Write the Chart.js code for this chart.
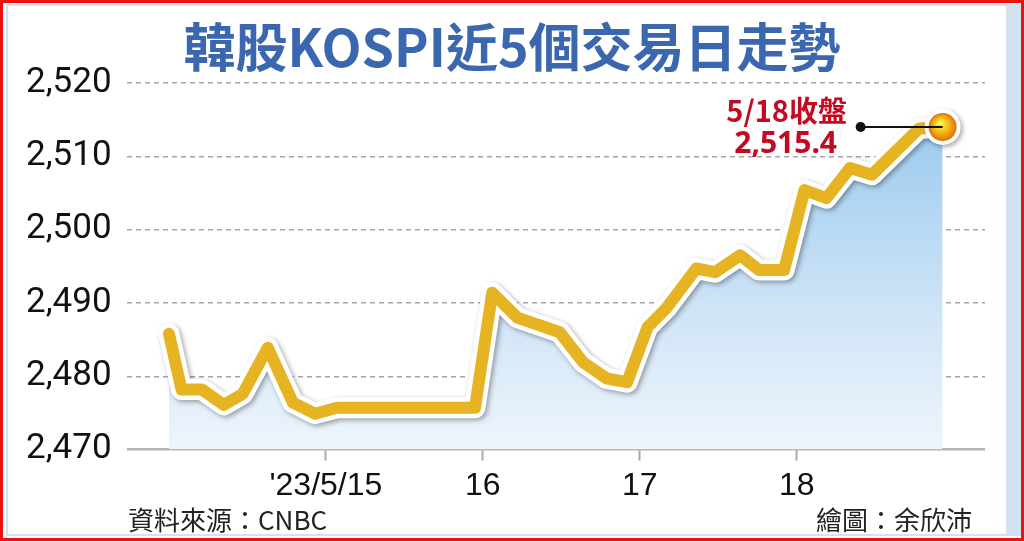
<!DOCTYPE html>
<html lang="zh-Hant">
<head>
  <meta charset="UTF-8">
  <title>韓股KOSPI近5個交易日走勢</title>
  <script src="https://cdn.jsdelivr.net/npm/chart.js"></script>
  <style>
    * { box-sizing: border-box; }
    body { margin: 0; background: #fff; }
    #frame {
      position: relative;
      width: 1024px;
      height: 541px;
      border: 3px solid #ee1111;
      background: #fff;
      overflow: hidden;
    }
    #inner {
      position: absolute;
      left: 3px; top: 1px; right: 0; bottom: 2px;
      border: 2px solid #d3e2f1;
      border-right-width: 15px;
    }
    #title {
      position: absolute;
      left: 0; width: 1018px; top: 12px;
      text-align: center;
      font-family: "Noto Sans CJK TC", sans-serif;
      font-weight: 700;
      font-size: 52px;
      line-height: 60px;
      color: #3b66b0;
    }
    .chart-wrap {
      position: absolute;
      left: -3px; top: -3px;
      width: 1024px; height: 541px;
    }
    .foot {
      position: absolute;
      top: 497px;
      font-family: "Liberation Sans Narrow", "Noto Sans CJK TC", sans-serif;
      font-size: 26px;
      color: #222;
    }
    #src { left: 125px; }
    #credit { right: 49px; }
  </style>
</head>
<body>
  <div id="frame">
    <div id="inner"></div>
    <div class="chart-wrap"><canvas id="chart"></canvas></div>
    <div id="title">韓股KOSPI近5個交易日走勢</div>
    <div class="foot" id="src">資料來源：CNBC</div>
    <div class="foot" id="credit">繪圖：余欣沛</div>
  </div>

  <script>
    // x = trading day position (0 = 5/12, 1 = 5/15 ... 4 = 5/18)
    const dayTicks = [1, 2, 3, 4];
    const dayLabels = ["'23/5/15", '16', '17', '18'];
    const yTicks = [2470, 2480, 2490, 2500, 2510, 2520];

    const xPos = [0.0, 0.08, 0.21, 0.35, 0.47, 0.63, 0.79, 0.93, 1.07, 1.95,
                  2.06, 2.22, 2.49, 2.64, 2.79, 2.92, 3.05, 3.17, 3.36, 3.48,
                  3.64, 3.76, 3.92, 4.05, 4.19, 4.34, 4.48, 4.78, 4.93];
    const kospi = [2485.8, 2478.2, 2478.2, 2476.1, 2477.6, 2483.9, 2476.4, 2474.9, 2475.7, 2475.7,
                   2491.4, 2488.0, 2486.0, 2481.9, 2479.7, 2479.2, 2486.7, 2489.3, 2494.7, 2494.2,
                   2496.5, 2494.5, 2494.5, 2505.4, 2504.3, 2508.4, 2507.5, 2513.8, 2514.0];

    const closeLabel = '5/18收盤';
    const closeValue = '2,515.4';

    const points = xPos.map((x, i) => ({ x: x, y: kospi[i] }));

    function areaGradient(ctx) {
      const area = ctx.chart.chartArea;
      if (!area) return 'rgba(160,205,240,0.5)';
      const g = ctx.chart.ctx.createLinearGradient(0, area.top + 40, 0, area.bottom);
      g.addColorStop(0, '#9ccaef');
      g.addColorStop(0.6, '#d1e5f7');
      g.addColorStop(1, '#eef5fc');
      return g;
    }

    // soft shadow under the white outline
    const shadowPlugin = {
      id: 'lineShadow',
      beforeDatasetDraw(chart, args) {
        if (args.index !== 1) return;
        const c = chart.ctx;
        c.save();
        c.shadowColor = 'rgba(0,0,0,0.35)';
        c.shadowBlur = 5;
        c.shadowOffsetX = 2;
        c.shadowOffsetY = 2;
      },
      afterDatasetDraw(chart, args) {
        if (args.index !== 1) return;
        chart.ctx.restore();
      }
    };

    // closing marker + annotation
    const closePlugin = {
      id: 'closeMark',
      afterDatasetsDraw(chart) {
        const c = chart.ctx;
        const last = points[points.length - 1];
        const px = chart.scales.x.getPixelForValue(last.x);
        const py = chart.scales.y.getPixelForValue(last.y);

        c.save();
        c.shadowColor = 'rgba(0,0,0,0.35)';
        c.shadowBlur = 5;
        c.shadowOffsetX = 2;
        c.shadowOffsetY = 2;
        c.fillStyle = '#fff';
        c.beginPath();
        c.arc(px, py, 18, 0, Math.PI * 2);
        c.fill();
        c.restore();

        const g = c.createRadialGradient(px - 3, py - 4, 1, px, py, 14);
        g.addColorStop(0, '#fff34a');
        g.addColorStop(0.45, '#f5c21c');
        g.addColorStop(1, '#e0700a');
        c.fillStyle = g;
        c.beginPath();
        c.arc(px, py, 14, 0, Math.PI * 2);
        c.fill();

        const lx = px - 82;
        c.strokeStyle = '#111';
        c.lineWidth = 2;
        c.beginPath();
        c.moveTo(lx, py);
        c.lineTo(px, py);
        c.stroke();
        c.fillStyle = '#111';
        c.beginPath();
        c.arc(lx, py, 5, 0, Math.PI * 2);
        c.fill();

        c.fillStyle = '#c40a22';
        c.textAlign = 'center';
        c.textBaseline = 'middle';
        c.font = 'bold 29px "Noto Sans CJK TC", sans-serif';
        c.fillText(closeLabel, px - 156, py - 16);
        c.font = 'bold 30px "Noto Sans", sans-serif';
        c.fillText(closeValue, px - 157, py + 17);
      }
    };

    const ctx = document.getElementById('chart').getContext('2d');
    const chart = new Chart(ctx, {
      type: 'line',
      data: {
        datasets: [
          {
            data: points,
            borderColor: '#e6b423',
            borderWidth: 12,
            borderJoinStyle: 'round',
            borderCapStyle: 'round',
            pointRadius: 0,
            tension: 0,
            fill: false,
            order: 0
          },
          {
            data: points,
            borderColor: '#ffffff',
            borderWidth: 21,
            borderJoinStyle: 'round',
            borderCapStyle: 'round',
            pointRadius: 0,
            tension: 0,
            fill: false,
            order: 1
          },
          {
            data: points,
            borderWidth: 0,
            borderColor: 'rgba(0,0,0,0)',
            backgroundColor: areaGradient,
            pointRadius: 0,
            tension: 0,
            fill: 'start',
            order: 2
          }
        ]
      },
      options: {
        responsive: true,
        maintainAspectRatio: false,
        animation: false,
        layout: {
          padding: { top: 83, left: 11, right: 39, bottom: 30 }
        },
        plugins: {
          legend: { display: false },
          tooltip: { enabled: false }
        },
        scales: {
          x: {
            type: 'linear',
            min: -0.27,
            max: 5.2,
            afterBuildTicks: axis => { axis.ticks = dayTicks.map(v => ({ value: v })); },
            ticks: {
              autoSkip: false,
              maxRotation: 0,
              padding: 6,
              color: '#111',
              font: { family: '"Liberation Sans Narrow", "Liberation Sans", sans-serif', size: 32 },
              callback: v => dayLabels[dayTicks.indexOf(v)]
            },
            grid: {
              drawOnChartArea: false,
              drawTicks: true,
              tickLength: 11,
              tickColor: '#aaaaaa',
              tickWidth: 2
            },
            border: { display: false }
          },
          y: {
            min: 2470,
            max: 2520,
            afterBuildTicks: axis => { axis.ticks = yTicks.map(v => ({ value: v })); },
            ticks: {
              padding: 15,
              color: '#111',
              font: { family: 'Roboto, sans-serif', size: 35 },
              callback: v => v.toLocaleString('en-US')
            },
            grid: {
              drawTicks: false,
              color: c => (c.tick && c.tick.value === 2470) ? '#b3b3b3' : '#a3a3a3',
              lineWidth: c => (c.tick && c.tick.value === 2470) ? 2.5 : 1.5
            },
            border: {
              display: false,
              dash: c => (c.tick && c.tick.value === 2470) ? [] : [5, 4]
            }
          }
        }
      },
      plugins: [shadowPlugin, closePlugin]
    });
  </script>
</body>
</html>
